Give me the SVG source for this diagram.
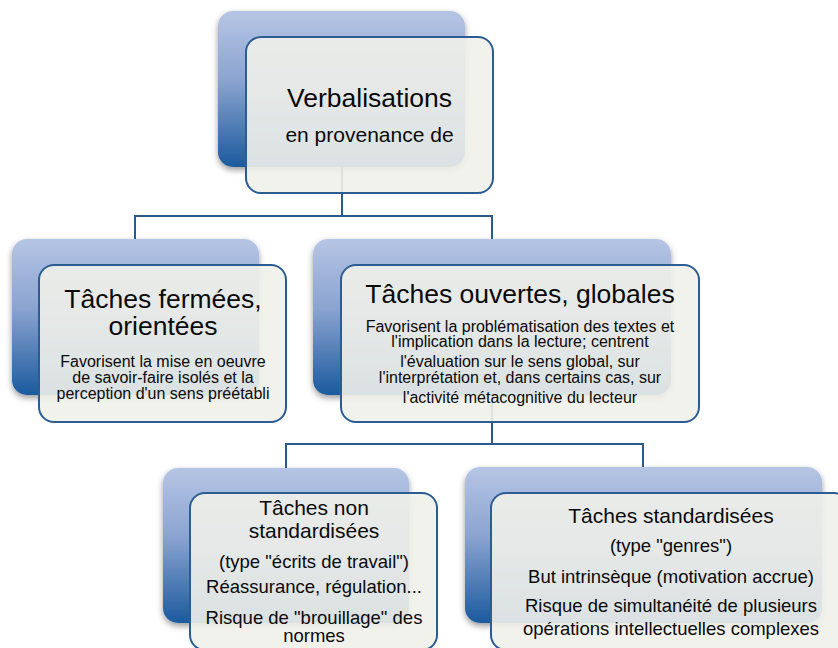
<svg xmlns="http://www.w3.org/2000/svg" width="838" height="648" viewBox="0 0 838 648">
  <defs>
    <linearGradient id="backFill" x1="0" y1="0" x2="0" y2="1">
      <stop offset="0" stop-color="#b6c5e5"/>
      <stop offset="0.45" stop-color="#8aa3d0"/>
      <stop offset="1" stop-color="#1b5a9e"/>
    </linearGradient>
    <filter id="shadow" x="-10%" y="-10%" width="125%" height="130%">
      <feDropShadow dx="0" dy="3" stdDeviation="3" flood-color="#000" flood-opacity="0.4"/>
    </filter>
    <style>
      .back { fill: url(#backFill); filter: url(#shadow); }
      .front { fill: #f1f1ea; fill-opacity: 0.9; stroke: #2c5d92; stroke-width: 2; }
      .conn { fill: none; stroke: #2b5a8c; stroke-width: 2; }
      text { font-family: "Liberation Sans", Arial, sans-serif; fill: #0a0a0a; text-anchor: middle; }
      .t1 { font-size: 26.5px; }
      .t2 { font-size: 21px; }
      .s1 { font-size: 16px; }
      .s2 { font-size: 18.5px; }
    </style>
  </defs>

  <!-- connectors between parent and child boxes -->
  <g id="connectors">
    <path class="conn" d="M342 150 V216 M135 239 V216 H492 V239"/>
    <path class="conn" d="M492 380 V444 M286 468 V444 H643 V467"/>
  </g>

  <g id="node-verbalisations">
    <rect class="back" x="218" y="11" width="247" height="156" rx="15"/>
    <rect class="front" x="246" y="37" width="247" height="156" rx="15"/>
    <text class="t1" x="369.5" y="107">Verbalisations</text>
    <text class="t2" x="369.5" y="142">en provenance de</text>
  </g>

  <g id="node-fermees">
    <rect class="back" x="12" y="239" width="247" height="156" rx="15"/>
    <rect class="front" x="39" y="265" width="247" height="157" rx="15"/>
    <text class="t1" x="163" y="308">Tâches fermées,</text>
    <text class="t1" x="163" y="335">orientées</text>
    <text class="s1" x="163" y="367">Favorisent la mise en oeuvre</text>
    <text class="s1" x="163" y="382.5">de savoir-faire isolés et la</text>
    <text class="s1" x="163" y="398.5">perception d'un sens préétabli</text>
  </g>

  <g id="node-ouvertes">
    <rect class="back" x="313" y="239" width="358" height="156" rx="15"/>
    <rect class="front" x="341" y="265" width="358" height="157" rx="15"/>
    <text class="t1" x="520" y="303">Tâches ouvertes, globales</text>
    <text class="s1" x="520" y="332">Favorisent la problématisation des textes et</text>
    <text class="s1" x="520" y="347">l'implication dans la lecture; centrent</text>
    <text class="s1" x="520" y="366.5">l'évaluation sur le sens global, sur</text>
    <text class="s1" x="520" y="383">l'interprétation et, dans certains cas, sur</text>
    <text class="s1" x="520" y="403">l'activité métacognitive du lecteur</text>
  </g>

  <g id="node-non-standardisees">
    <rect class="back" x="163" y="468" width="246" height="155" rx="15"/>
    <rect class="front" x="190" y="493" width="247" height="157" rx="15"/>
    <text class="t2" x="314" y="515">Tâches non</text>
    <text class="t2" x="314" y="538">standardisées</text>
    <text class="s2" x="314" y="568">(type "écrits de travail")</text>
    <text class="s2" x="314" y="593">Réassurance, régulation...</text>
    <text class="s2" x="314" y="624">Risque de "brouillage" des</text>
    <text class="s2" x="314" y="642">normes</text>
  </g>

  <g id="node-standardisees">
    <rect class="back" x="465" y="467" width="357" height="156" rx="15"/>
    <rect class="front" x="491" y="493" width="358" height="157" rx="15"/>
    <text class="t2" x="671" y="523">Tâches standardisées</text>
    <text class="s2" x="671" y="552">(type "genres")</text>
    <text class="s2" x="671" y="583">But intrinsèque (motivation accrue)</text>
    <text class="s2" x="671" y="612">Risque de simultanéité de plusieurs</text>
    <text class="s2" x="671" y="635">opérations intellectuelles complexes</text>
  </g>
</svg>
